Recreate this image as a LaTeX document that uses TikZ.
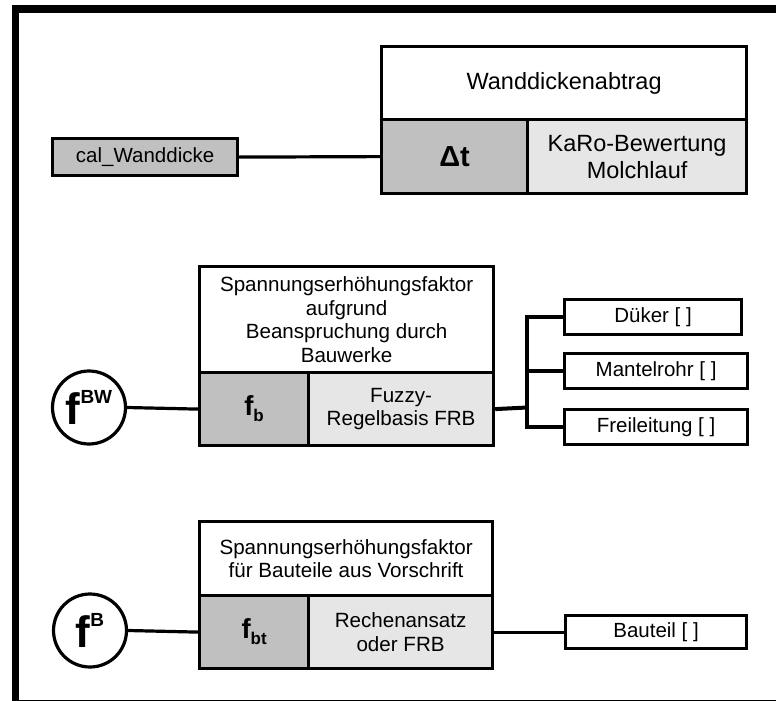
\documentclass[tikz,border=0pt]{standalone}
\usepackage{fontspec}
\setmainfont{Liberation Sans}
\usepackage{tikz}
\usetikzlibrary{positioning,calc}
\definecolor{zelleGrau}{RGB}{192,192,192}
\definecolor{zelleHell}{RGB}{230,230,230}
\newcommand{\schriftGross}{\fontsize{23.5}{27}\selectfont}
\newcommand{\schriftMittel}{\fontsize{20.6}{23.7}\selectfont}
\newcommand{\schriftKlein}{\fontsize{20.5}{23}\selectfont}
\tikzset{
	zelle/.style={draw, line width=3.2pt, rectangle, inner sep=0pt, anchor=north west, align=center},
	zelleSym/.style={zelle, fill=zelleGrau},
	zelleRegel/.style={zelle, fill=zelleHell},
	klein/.style={zelle, font=\schriftKlein},
	kreis/.style={draw, line width=3.2pt, circle, inner sep=0pt, minimum size=73pt},
	linie/.style={line width=3.2pt},
	bus/.style={line width=4pt}
}
\newcommand{\fHoch}[1]{{\bfseries\fontsize{44}{44}\selectfont f\raisebox{21pt}{\fontsize{19}{19}\selectfont #1}}}
\newcommand{\fTief}[1]{\raisebox{-6pt}{\bfseries\fontsize{27.5}{27.5}\selectfont f\raisebox{-6pt}{\fontsize{17}{17}\selectfont #1}}}
\begin{document}
\begin{tikzpicture}[x=1pt,y=-1pt]
		\def\xBlock{198}
		\def\xRegel{307}
		\def\wSym{109}
		\def\xKlein{563}
		\def\xBus{527}

	\useasboundingbox (0,0) rectangle (776,701);
	\clip (0,0) rectangle (776,701);
	\draw[line width=7.7pt] (15.5,9.2) rectangle (800,703.5);

% Wanddickenabtrag
	\node[zelle, minimum width=365, minimum height=73, font=\schriftGross] (wdKopf) at (380,45) {Wanddickenabtrag};
	\node[zelleSym, minimum width=146, minimum height=74] (wdSym) at (380,118) {\raisebox{-5pt}{\bfseries\fontsize{29}{29}\selectfont Δt}};
	\node[zelleRegel, minimum width=219, minimum height=74, font=\schriftGross] (wdRegel) at (526,118) {KaRo-Bewertung\\Molchlauf};
	\node[zelle, fill=zelleGrau, minimum width=185, minimum height=37, font=\schriftKlein] (calBox) at (51,137) {cal\_Wanddicke};
	\draw[linie] (calBox.east) -- (wdSym.west);

% Bauwerke
	\node[zelle, minimum width=294, minimum height=106, font=\schriftMittel] (bwKopf) at (\xBlock,265) {Spannungserhöhungsfaktor\\aufgrund\\Beanspruchung durch\\Bauwerke};
	\node[zelleSym, minimum width=\wSym, minimum height=73] (bwSym) at (\xBlock,371) {\fTief{b}};
	\node[zelleRegel, minimum width=185, minimum height=73, font=\schriftMittel] (bwRegel) at (\xRegel,371) {Fuzzy-\\Regelbasis FRB};
	\node[kreis] (fBW) at (89,407.5) {\fHoch{BW}};
	\draw[linie] (fBW.east) -- (bwSym.west);

	\node[klein, minimum width=177, minimum height=35] (dueker) at (\xKlein,298) {Düker [ ]};
	\node[klein, minimum width=183, minimum height=35] (mantel) at (\xKlein,352) {Mantelrohr [ ]};
	\node[klein, minimum width=183, minimum height=35] (frei) at (\xKlein,408) {Freileitung [ ]};
	\coordinate (bwBus) at (\xBus,407.5);
	\draw[bus] (bwRegel.east) -- (bwBus);
	\draw[bus] (dueker.west) -- (bwBus |- dueker.west) -- (bwBus |- frei.west) -- (frei.west);
	\draw[bus] (mantel.west) -- (bwBus |- mantel.west);

% Bauteile
	\node[zelle, minimum width=293, minimum height=74, font=\schriftMittel] (btKopf) at (\xBlock,520) {Spannungserhöhungsfaktor\\für Bauteile aus Vorschrift};
	\node[zelleSym, minimum width=\wSym, minimum height=73] (btSym) at (\xBlock,594) {\fTief{bt}};
	\node[zelleRegel, minimum width=184, minimum height=73, font=\schriftMittel] (btRegel) at (\xRegel,594) {Rechenansatz\\oder FRB};
	\node[kreis] (fB) at (90,630.5) {\fHoch{B}};
	\draw[linie] (fB.east) -- (btSym.west);

	\node[klein, minimum width=181, minimum height=33] (bauteil) at (564,614) {Bauteil [ ]};
	\draw[linie] (btRegel.east) -- (bauteil.west);
\end{tikzpicture}
\end{document}
